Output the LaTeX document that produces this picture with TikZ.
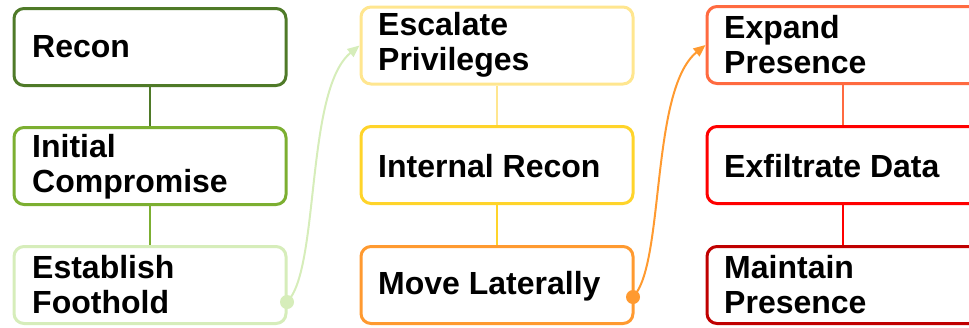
\documentclass[tikz,border=0pt]{standalone}
\usepackage{fontspec}
\setmainfont{Liberation Sans}
\usetikzlibrary{arrows.meta}
\definecolor{gA}{HTML}{4F7A28}
\definecolor{gB}{HTML}{7CAF31}
\definecolor{gC}{HTML}{D6EDBA}
\definecolor{yA}{HTML}{FFE68F}
\definecolor{yB}{HTML}{FFD42A}
\definecolor{yC}{HTML}{FF9A30}
\definecolor{rA}{HTML}{FF6A40}
\definecolor{rB}{HTML}{FF0000}
\definecolor{rC}{HTML}{C00000}
\tikzset{
  stepbox/.style={draw=#1, line width=3pt, rounded corners=10pt, fill=white,
    minimum width=272pt, minimum height=77pt, inner sep=0pt},
  steptext/.style={anchor=west, align=left, font=\fontsize{32}{35}\selectfont\bfseries, inner sep=0pt},
  link/.style={draw=#1, line width=2pt},
  jump/.style={draw=#1, line width=2pt, -{Triangle[length=12pt,width=10pt]}},
  dot/.style={circle, fill=#1, minimum size=14pt, inner sep=0pt}
}
\begin{document}
\begin{tikzpicture}[x=1pt,y=-1pt]
\useasboundingbox (0,0) rectangle (969,327);
% column 1
\node[stepbox=gA] (b1) at (150,47) {};
\node[stepbox=gB] (b2) at (150,166) {};
\node[stepbox=gC] (b3) at (150,285) {};
% column 2
\node[stepbox=yA] (b4) at (497,45.5) {};
\node[stepbox=yB] (b5) at (497,165) {};
\node[stepbox=yC] (b6) at (497,285) {};
% column 3
\node[stepbox=rA] (b7) at (843,45) {};
\node[stepbox=rB] (b8) at (843,165) {};
\node[stepbox=rC] (b9) at (843,285) {};
% connectors
\draw[link=gA] (b1.south) -- (b2.north);
\draw[link=gB] (b2.south) -- (b3.north);
\draw[link=yA] (b4.south) -- (b5.north);
\draw[link=yB] (b5.south) -- (b6.north);
\draw[link=rA] (b7.south) -- (b8.north);
\draw[link=rB] (b8.south) -- (b9.north);
% texts
\node[steptext] (t1) at (32,47) {Recon};
\node[steptext] (t2) at (32,167) {Initial\\Compromise};
\node[steptext] (t3) at (32,285) {Establish\\Foothold};
\node[steptext] (t4) at (378,45) {Escalate\\Privileges};
\node[steptext] (t5) at (378,166) {Internal Recon};
\node[steptext] (t6) at (378,286) {Move Laterally};
\node[steptext] (t7) at (724,45) {Expand\\Presence};
\node[steptext] (t8) at (724,166) {Exfiltrate Data};
\node[steptext] (t9) at (724,285) {Maintain\\Presence};
% jumps
\coordinate (s1) at (287,302);
\coordinate (e1) at (b4.west);
\draw[jump=gC] (s1) .. controls (320,270) and (305,90) .. (e1);
\node[dot=gC] (d1) at (s1) {};
\coordinate (s2) at (633,297);
\coordinate (e2) at (b7.west);
\draw[jump=yC] (s2) .. controls (665,265) and (650,90) .. (e2);
\node[dot=yC] (d2) at (s2) {};
\end{tikzpicture}
\end{document}
